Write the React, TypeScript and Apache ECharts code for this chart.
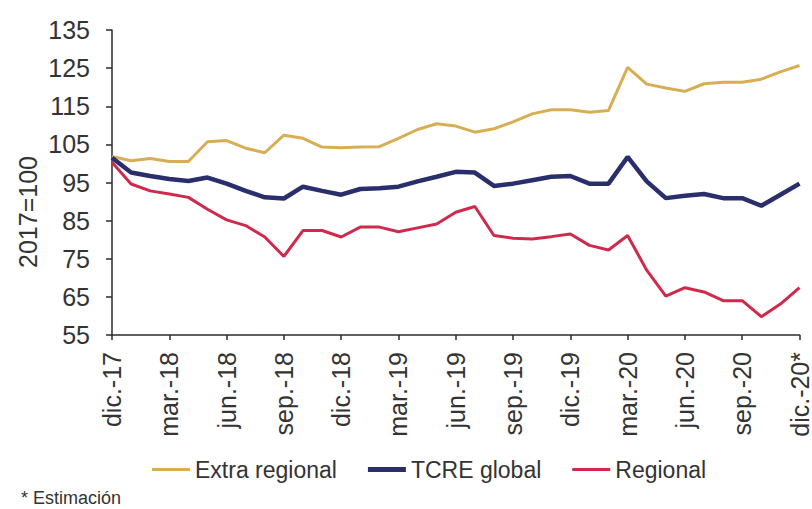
import React, { useEffect, useRef } from "react";
import * as echarts from "echarts";

// Monthly index, 2017 average = 100
const months: string[] = [
  "dic.-17", "ene.-18", "feb.-18", "mar.-18", "abr.-18", "may.-18", "jun.-18",
  "jul.-18", "ago.-18", "sep.-18", "oct.-18", "nov.-18", "dic.-18",
  "ene.-19", "feb.-19", "mar.-19", "abr.-19", "may.-19", "jun.-19",
  "jul.-19", "ago.-19", "sep.-19", "oct.-19", "nov.-19", "dic.-19",
  "ene.-20", "feb.-20", "mar.-20", "abr.-20", "may.-20", "jun.-20",
  "jul.-20", "ago.-20", "sep.-20", "oct.-20", "nov.-20", "dic.-20*",
];

const extraRegional: number[] = [
  101.8, 100.7, 101.3, 100.5, 100.5, 105.7, 106.0, 104.0, 102.8, 107.4, 106.6, 104.3,
  104.1, 104.3, 104.4, 106.6, 108.9, 110.4, 109.8, 108.2, 109.1, 110.9, 113.0, 114.1,
  114.1, 113.4, 113.9, 125.2, 120.8, 119.8, 118.9, 120.9, 121.3, 121.3, 122.1, 124.0,
  125.7,
];

const tcreGlobal: number[] = [
  101.5, 97.6, 96.7, 95.9, 95.4, 96.3, 94.7, 92.8, 91.1, 90.8, 93.9, 92.8,
  91.8, 93.3, 93.5, 93.9, 95.3, 96.5, 97.8, 97.6, 94.1, 94.7, 95.6, 96.5,
  96.7, 94.7, 94.7, 101.7, 95.3, 90.9, 91.5, 92.0, 90.9, 90.9, 88.9, 91.8,
  94.7,
];

const regional: number[] = [
  100.3, 94.6, 92.8, 92.0, 91.1, 88.0, 85.2, 83.7, 80.7, 75.6, 82.4, 82.4,
  80.7, 83.3, 83.3, 82.1, 83.1, 84.1, 87.2, 88.7, 81.1, 80.4, 80.2, 80.8,
  81.5, 78.5, 77.3, 81.1, 72.0, 65.2, 67.4, 66.3, 64.0, 64.0, 59.8, 63.1,
  67.4,
];

const yTicks: number[] = [55, 65, 75, 85, 95, 105, 115, 125, 135];

const FONT = "'Liberation Sans', Arial, sans-serif";
const TEXT = "#333333";
const AXIS = "#2b2b2b";

const GOLD = "#d8ae55";
const NAVY = "#2a2e6c";
const CRIMSON = "#cf2a4c";

// Flat bar icons for the legend, thickness follows each series' line width
const thinIcon = "path://M0,0H38V3H0Z";
const thickIcon = "path://M0,0H38V5H0Z";

export default function App() {
  const ref = useRef<HTMLDivElement>(null);

  useEffect(() => {
    if (!ref.current) return;
    const chart = echarts.init(ref.current, undefined, { renderer: "svg" });
    chart.setOption({
      animation: false,
      backgroundColor: "#ffffff",
      textStyle: { fontFamily: FONT, color: TEXT },
      grid: { left: 112, right: 11, top: 30, bottom: 174, containLabel: false },
      legend: {
        left: 147,
        top: 453,
        itemWidth: 38,
        itemHeight: 14,
        itemGap: 31,
        symbolKeepAspect: true,
        textStyle: { fontFamily: FONT, fontSize: 23, color: TEXT },
        data: [
          { name: "Extra regional", icon: thinIcon, itemStyle: { color: GOLD } },
          { name: "TCRE global", icon: thickIcon, itemStyle: { color: NAVY } },
          { name: "Regional", icon: thinIcon, itemStyle: { color: CRIMSON } },
        ],
      },
      xAxis: {
        type: "category",
        data: months,
        boundaryGap: false,
        axisLine: { lineStyle: { color: AXIS, width: 1.5 } },
        axisTick: { show: true, interval: 2, length: 5, lineStyle: { color: AXIS, width: 1.5 } },
        axisLabel: {
          interval: 2,
          rotate: 90,
          margin: 17,
          fontFamily: FONT,
          fontSize: 25,
          color: TEXT,
        },
        splitLine: { show: false },
      },
      yAxis: {
        type: "value",
        min: 55,
        max: 135,
        axisLine: { show: true, lineStyle: { color: AXIS, width: 1.5 } },
        axisTick: { show: true, length: 6, customValues: yTicks, lineStyle: { color: AXIS, width: 1.5 } },
        axisLabel: {
          customValues: yTicks,
          margin: 22,
          fontFamily: FONT,
          fontSize: 25,
          color: TEXT,
        },
        splitLine: { show: false },
      },
      graphic: [
        {
          type: "text",
          x: 28,
          y: 212,
          rotation: Math.PI / 2,
          style: {
            text: "2017=100",
            font: `25px ${FONT}`,
            fill: TEXT,
            align: "center",
            verticalAlign: "middle",
          },
        },
        {
          type: "text",
          left: 21,
          top: 489,
          style: { text: "* Estimación", font: `18px ${FONT}`, fill: TEXT },
        },
      ],
      series: [
        {
          name: "Extra regional",
          type: "line",
          data: extraRegional,
          symbol: "none",
          lineStyle: { color: GOLD, width: 3 },
          itemStyle: { color: GOLD },
        },
        {
          name: "TCRE global",
          type: "line",
          data: tcreGlobal,
          symbol: "none",
          lineStyle: { color: NAVY, width: 4.5 },
          itemStyle: { color: NAVY },
        },
        {
          name: "Regional",
          type: "line",
          data: regional,
          symbol: "none",
          lineStyle: { color: CRIMSON, width: 3 },
          itemStyle: { color: CRIMSON },
        },
      ],
    });
    return () => chart.dispose();
  }, []);

  return (
    <div
      ref={ref}
      style={{ position: "fixed", left: 0, top: 0, width: 812, height: 509, background: "#fff" }}
    />
  );
}
